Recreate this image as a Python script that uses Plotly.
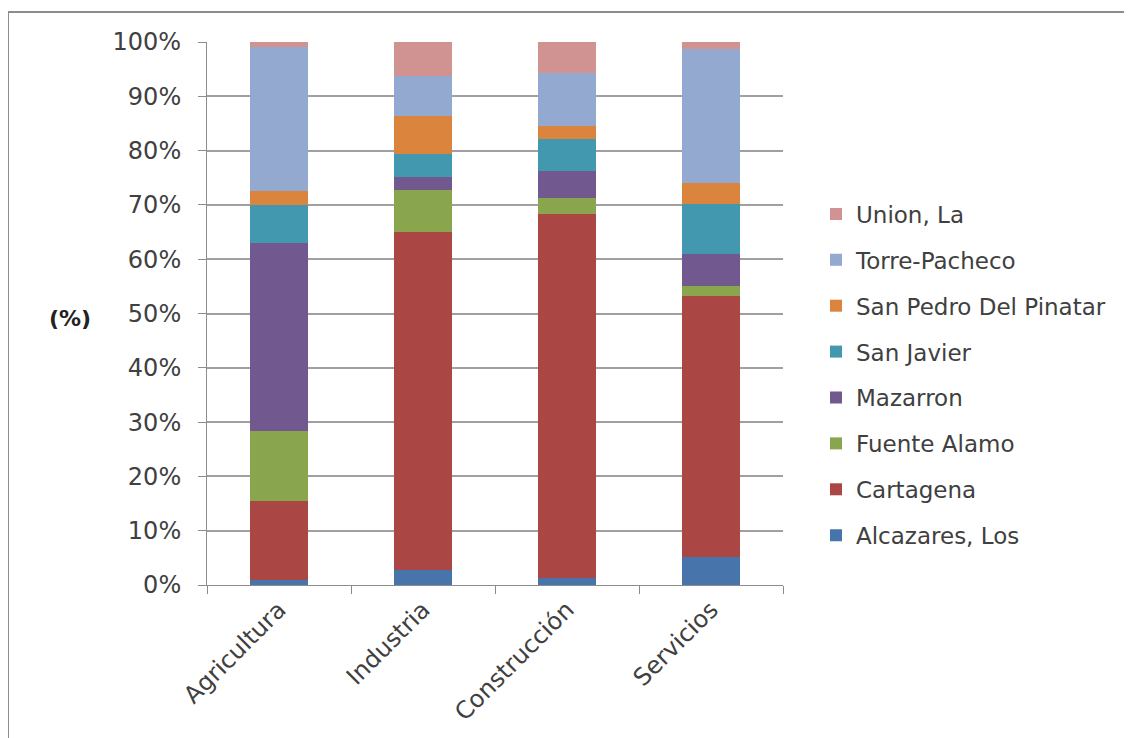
import plotly.graph_objects as go

categories = ["Agricultura", "Industria", "Construcción", "Servicios"]

series_names = ["Alcazares, Los", "Cartagena", "Fuente Alamo", "Mazarron",
                "San Javier", "San Pedro Del Pinatar", "Torre-Pacheco", "Union, La"]

alcazares = [1.0, 2.8, 1.3, 5.1]
cartagena = [14.4, 62.3, 67.1, 48.1]
fuente_alamo = [13.0, 7.7, 2.8, 1.8]
mazarron = [34.6, 2.4, 5.1, 5.9]
san_javier = [7.0, 4.2, 5.9, 9.2]
san_pedro = [2.6, 7.0, 2.4, 4.0]
torre_pacheco = [26.4, 7.3, 9.7, 24.6]
union_la = [1.0, 6.3, 5.7, 1.3]

series_values = [alcazares, cartagena, fuente_alamo, mazarron,
                 san_javier, san_pedro, torre_pacheco, union_la]

colors = ["#4674AB", "#AA4643", "#89A54E", "#71588F",
          "#4198AF", "#DB843D", "#93A9CF", "#D19392"]

y_ticks = [0, 10, 20, 30, 40, 50, 60, 70, 80, 90, 100]
y_tick_labels = [f"{v}%" for v in y_ticks]

FONT = "DejaVu Sans"
TXT = "#404040"

fig = go.Figure()
n = len(series_names)
for i, (name, vals, col) in enumerate(zip(series_names, series_values, colors)):
    fig.add_trace(go.Bar(
        x=categories, y=vals, name=name, legendgroup=name,
        legendrank=n - i,
        marker=dict(color=col, line=dict(width=0)),
    ))

# page body has an 8px margin; work in screen pixels and shift
OFF = 8
W, H = 1132 - OFF, 738 - OFF
L, R, T, B = 207 - OFF, 783 - OFF, 42 - OFF, 587 - OFF

def px(x):
    return (x - OFF - L) / (R - L)

def py(y):
    return (B - (y - OFF)) / (B - T)

fig.update_layout(
    width=W, height=H,
    margin=dict(l=L, r=W - R, t=T, b=H - B, pad=0),
    barmode="stack", bargap=0.6,
    paper_bgcolor="white", plot_bgcolor="white",
    font=dict(family=FONT, size=20, color=TXT),
    showlegend=True,
    legend=dict(
        traceorder="grouped", tracegroupgap=13,
        x=px(816), y=py(193), xanchor="left", yanchor="top",
        font=dict(family=FONT, size=23, color=TXT),
        itemwidth=30, bgcolor="rgba(0,0,0,0)",
    ),
    xaxis=dict(
        type="category", tickangle=-45, tickson="boundaries",
        ticks="outside", ticklen=8, tickcolor="#8C8C8C",
        showline=True, linecolor="#8C8C8C", linewidth=1,
        showgrid=False, tickfont=dict(family=FONT, size=24, color=TXT),
    ),
    yaxis=dict(
        range=[0, 100], tickvals=y_ticks, ticktext=y_tick_labels,
        ticks="outside", ticklen=8, tickcolor="#8C8C8C",
        showline=True, linecolor="#8C8C8C", linewidth=1,
        showgrid=True, gridcolor="#A0A0A0", gridwidth=1.5,
        zeroline=False, tickfont=dict(family=FONT, size=24, color=TXT),
        ticklabelstandoff=12,
    ),
    shapes=[dict(
        type="rect", xref="paper", yref="paper",
        x0=px(8), x1=px(1150), y0=py(760), y1=py(12),
        line=dict(color="#8C8C8C", width=2), fillcolor="rgba(0,0,0,0)",
        layer="below",
    )],
    annotations=[dict(
        text="<b>(%)</b>", xref="paper", yref="paper",
        x=px(70), y=py(320), xanchor="center", yanchor="middle",
        showarrow=False, font=dict(family=FONT, size=22, color="#222222"),
    )],
)

fig.write_html("out.html")
